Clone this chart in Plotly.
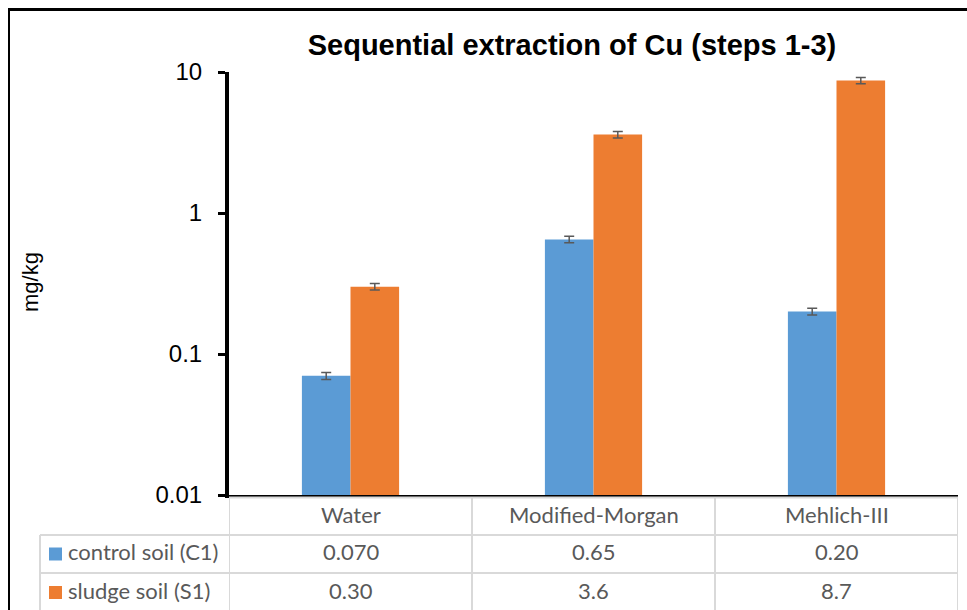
import plotly.graph_objects as go

# ---- data ----
categories = ["Water", "Modified-Morgan", "Mehlich-III"]
control_c1 = [0.070, 0.65, 0.20]
sludge_s1 = [0.30, 3.6, 8.7]
control_err = [0.004, 0.035, 0.011]
sludge_err = [0.016, 0.19, 0.45]
series_names = ["control soil (C1)", "sludge soil (S1)"]
ytick_vals = [0.01, 0.1, 1, 10]
ytick_text = ["0.01", "0.1", "1", "10"]

W, H = 967, 610


def px(x):
    return x / W


def py(y):
    return 1 - y / H


BLUE = "#5B9BD5"
ORANGE = "#ED7D31"
GRID = "#D9D9D9"
TXT = "#595959"
ARIAL = "Liberation Sans, Arial, sans-serif"
TABLE_FONT = "Lato, Open Sans, sans-serif"

series = [
    (series_names[0], control_c1, control_err, BLUE),
    (series_names[1], sludge_s1, sludge_err, ORANGE),
]

fig = go.Figure()
for name, vals, errs, col in series:
    fig.add_bar(
        x=categories, y=vals, name=name, marker_color=col,
        marker_line_width=0,
        error_y=dict(type="data", array=errs, visible=True,
                     color="#595959", thickness=1.5, width=5),
    )

fig.update_layout(
    width=W, height=H, autosize=False,
    margin=dict(l=0, r=0, t=0, b=0),
    barmode="group", bargap=0.6, bargroupgap=0,
    showlegend=False,
    plot_bgcolor="white", paper_bgcolor="white",
    title=dict(text="<b>Sequential extraction of Cu (steps 1-3)</b>",
               x=px(572), xanchor="center", y=py(45), yanchor="middle",
               xref="paper", yref="paper",
               font=dict(family=ARIAL, size=29, color="black")),
)
fig.update_xaxes(domain=[px(229), px(958)], range=[-0.5, 2.5],
                 showline=True, linewidth=3, linecolor="black",
                 showticklabels=False, ticks="", showgrid=False,
                 automargin=False)
fig.update_yaxes(type="log", range=[-2, 1], domain=[py(495), py(72)],
                 showline=True, linewidth=4, linecolor="black",
                 ticks="outside", ticklen=7, tickwidth=3, tickcolor="black",
                 tickvals=ytick_vals, ticktext=ytick_text,
                 ticklabelstandoff=11,
                 tickfont=dict(family=ARIAL, size=24, color="black"),
                 showgrid=False, zeroline=False, automargin=False)

shapes = []
# outer border (top and left)
shapes.append(dict(type="line", xref="paper", yref="paper",
                   x0=px(8), x1=1, y0=py(9.5), y1=py(9.5),
                   line=dict(color="black", width=3)))
shapes.append(dict(type="line", xref="paper", yref="paper",
                   x0=px(9), x1=px(9), y0=py(9), y1=0,
                   line=dict(color="black", width=2)))
# table horizontal lines
for y0, xl in [(497.5, 229), (535, 40), (573, 40), (611, 40)]:
    shapes.append(dict(type="line", xref="paper", yref="paper",
                       x0=px(xl), x1=px(958), y0=py(y0), y1=py(y0),
                       line=dict(color=GRID, width=2)))
# table vertical lines
shapes.append(dict(type="line", xref="paper", yref="paper",
                   x0=px(40), x1=px(40), y0=py(535), y1=0,
                   line=dict(color=GRID, width=2)))
for xb in [-0.5, 0.5, 1.5, 2.5]:
    shapes.append(dict(type="line", xref="x", yref="paper",
                       x0=xb, x1=xb, y0=py(497), y1=0,
                       line=dict(color=GRID, width=2)))

annotations = []
# y axis title
annotations.append(dict(text="mg/kg", xref="paper", yref="paper",
                        x=px(30), y=py(282), textangle=-90, showarrow=False,
                        xanchor="center", yanchor="middle",
                        font=dict(family=ARIAL, size=22, color="black")))
# table header
for c in categories:
    annotations.append(dict(text=c, xref="x", yref="paper", x=c, y=py(514),
                            showarrow=False, xanchor="center", yanchor="middle",
                            font=dict(family=TABLE_FONT, size=22, color=TXT)))
row_y = [551.5, 590]
for (name, vals, errs, col), ry in zip(series, row_y):
    shapes.append(dict(type="rect", xref="paper", yref="paper",
                       x0=px(49), x1=px(62), y0=py(ry - 4), y1=py(ry + 9),
                       fillcolor=col, line=dict(width=0)))
    annotations.append(dict(text=name, xref="paper", yref="paper",
                            x=px(66), y=py(ry), showarrow=False,
                            xanchor="left", yanchor="middle",
                            font=dict(family=TABLE_FONT, size=22, color=TXT)))
    for c, v in zip(categories, vals):
        annotations.append(dict(text="{:#.2g}".format(v), xref="x", yref="paper",
                                x=c, y=py(ry), showarrow=False,
                                xanchor="center", yanchor="middle",
                                font=dict(family=TABLE_FONT, size=22, color=TXT)))

fig.update_layout(shapes=shapes, annotations=annotations)
fig.write_html("out.html")
